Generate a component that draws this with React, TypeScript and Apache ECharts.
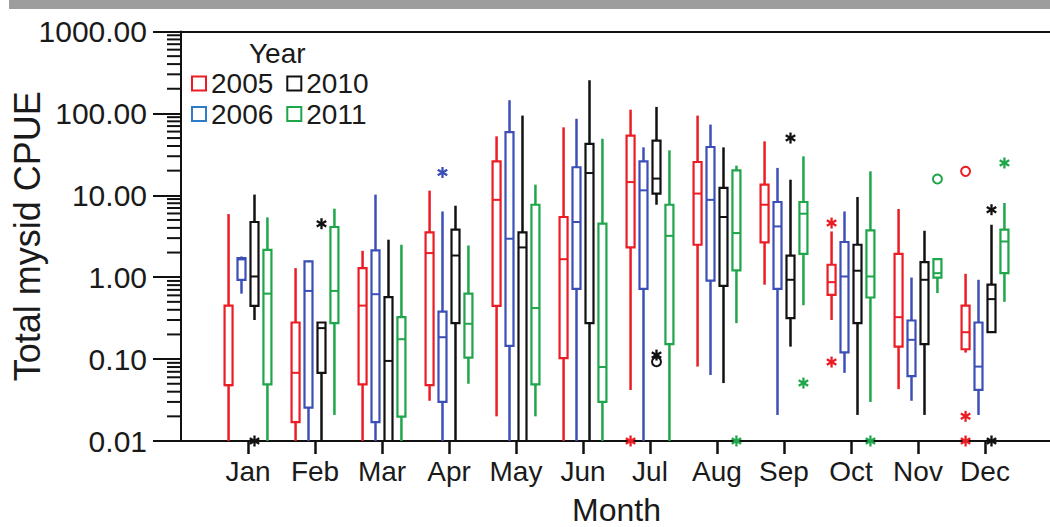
import React, { useEffect, useRef } from "react";
import * as echarts from "echarts";

// Months (x categories)
const months = ["Jan", "Feb", "Mar", "Apr", "May", "Jun", "Jul", "Aug", "Sep", "Oct", "Nov", "Dec"];
const years = ["2005", "2006", "2010", "2011"];

// Box statistics per month: [low whisker, Q1, median, Q3, high whisker]
const box2005 = [
  [0.01, 0.048, 0.048, 0.45, 5.9],
  [0.01, 0.017, 0.068, 0.28, 1.29],
  [0.01, 0.049, 0.45, 1.29, 2.1],
  [0.031, 0.048, 1.97, 3.52, 11.4],
  [0.02, 0.447, 8.8, 26, 52.5],
  [0.01, 0.103, 1.66, 5.43, 67.6],
  [0.042, 2.31, 14.5, 53.5, 111],
  [0.081, 2.49, 10.5, 25.5, 94],
  [0.81, 2.66, 7.67, 13.5, 45.6],
  [0.3, 0.61, 0.87, 1.42, 3.62],
  [0.043, 0.142, 0.325, 1.93, 6.8],
  [0.12, 0.132, 0.213, 0.45, 1.1],
];
const box2006 = [
  [0.63, 0.93, 1.65, 1.71, 1.79],
  [0.01, 0.0255, 0.68, 1.56, 1.6],
  [0.01, 0.017, 0.62, 2.12, 10.2],
  [0.01, 0.03, 0.185, 0.38, 6.35],
  [0.01, 0.145, 2.95, 59, 145],
  [0.01, 0.72, 4.72, 22, 86],
  [0.01, 0.72, 11.5, 26, 38.5],
  [0.064, 0.91, 8.8, 38.9, 73],
  [0.0208, 0.72, 4.17, 8.28, 21.6],
  [0.068, 0.121, 1.02, 2.69, 6.35],
  [0.031, 0.062, 0.172, 0.296, 0.99],
  [0.0208, 0.042, 0.081, 0.28, 0.93],
];
const box2010 = [
  [0.3, 0.447, 1.02, 4.72, 10.2],
  [0.01, 0.068, 0.239, 0.28, 0.28],
  [0.01, 0.01, 0.095, 0.57, 2.87],
  [0.01, 0.275, 1.84, 3.8, 7.46],
  [0.01, 0.01, 2.31, 3.52, 94],
  [0.01, 0.275, 18.7, 42.4, 254],
  [7.67, 10.5, 16, 46.5, 120],
  [0.051, 0.785, 5.43, 12.3, 38.5],
  [0.142, 0.316, 0.93, 1.83, 15.5],
  [0.0208, 0.275, 1.2, 2.49, 9.53],
  [0.0208, 0.152, 0.93, 1.53, 3.69],
  [0.213, 0.213, 0.54, 0.81, 4.37],
];
const box2011 = [
  [0.01, 0.049, 0.63, 2.16, 5.37],
  [0.0208, 0.275, 0.68, 4.1, 6.86],
  [0.01, 0.0198, 0.175, 0.325, 2.49],
  [0.05, 0.104, 0.27, 0.63, 2.44],
  [0.02, 0.049, 0.42, 7.67, 13.5],
  [0.01, 0.03, 0.08, 4.5, 49],
  [0.01, 0.152, 3.2, 7.67, 35.4],
  [0.275, 1.21, 3.46, 20.1, 23],
  [0.455, 1.93, 5.96, 8.28, 29.9],
  [0.03, 0.565, 1.02, 3.72, 19.6],
  [0.64, 0.99, 1.12, 1.66, 1.66],
  [0.5, 1.12, 2.73, 3.8, 8.05],
];

// Outliers: [month number, value, marker (0 = asterisk, 1 = circle)]
const out2005 = [
  [7, 0.01, 0],
  [10, 4.58, 0],
  [10, 0.092, 0],
  [12, 19.6, 1],
  [12, 0.02, 0],
  [12, 0.01, 0],
];
const out2006 = [[4, 19, 0]];
const out2010 = [
  [1, 0.01, 0],
  [2, 4.5, 0],
  [7, 0.112, 0],
  [7, 0.093, 1],
  [9, 50, 0],
  [12, 6.67, 0],
  [12, 0.01, 0],
];
const out2011 = [
  [8, 0.01, 0],
  [9, 0.051, 0],
  [10, 0.01, 0],
  [11, 15.8, 1],
  [12, 24.8, 0],
];

// Y axis minor tick values
const minorTickValues = [
  0.02, 0.03, 0.04, 0.05, 0.06, 0.07, 0.08, 0.09,
  0.2, 0.3, 0.4, 0.5, 0.6, 0.7, 0.8, 0.9,
  2, 3, 4, 5, 6, 7, 8, 9,
  20, 30, 40, 50, 60, 70, 80, 90,
  200, 300, 400, 500, 600, 700, 800, 900,
];

const boxSets = [box2005, box2006, box2010, box2011];
const outSets = [out2005, out2006, out2010, out2011];
const colors = ["#ec1c24", "#3c4fb6", "#111111", "#1fa54a"];
const legendColors = ["#ec1c24", "#2e7bc7", "#111111", "#1fa54a"];
const offsets = [-0.29, -0.097, 0.097, 0.29];
const FONT = "'Liberation Sans', Arial, Helvetica, sans-serif";
const TXT = "#1a1a1a";

function boxRenderer(color: string, offset: number) {
  return (params: any, api: any) => {
    const m = api.value(0) + offset;
    const low = api.coord([m, api.value(1)]);
    const q1 = api.coord([m, api.value(2)]);
    const med = api.coord([m, api.value(3)]);
    const q3 = api.coord([m, api.value(4)]);
    const high = api.coord([m, api.value(5)]);
    const x = q1[0];
    const hw = 4;
    return {
      type: "group",
      children: [
        { type: "line", shape: { x1: x, y1: high[1], x2: x, y2: q3[1] }, style: { stroke: color, lineWidth: 2.5 } },
        { type: "line", shape: { x1: x, y1: q1[1], x2: x, y2: low[1] }, style: { stroke: color, lineWidth: 2.5 } },
        {
          type: "rect",
          shape: { x: x - hw, y: q3[1], width: hw * 2, height: q1[1] - q3[1] },
          style: { fill: "none", stroke: color, lineWidth: 2.2 },
        },
        { type: "line", shape: { x1: x - hw, y1: med[1], x2: x + hw, y2: med[1] }, style: { stroke: color, lineWidth: 2 } },
      ],
    };
  };
}

function outlierRenderer(color: string, offset: number) {
  return (params: any, api: any) => {
    const p = api.coord([api.value(0) + offset, api.value(1)]);
    if (api.value(2) === 1) {
      return { type: "circle", shape: { cx: p[0], cy: p[1], r: 4.5 }, style: { fill: "none", stroke: color, lineWidth: 2 } };
    }
    const r = 5.5;
    const children = [90, 30, 150].map((deg) => {
      const a = (deg * Math.PI) / 180;
      const dx = Math.cos(a) * r;
      const dy = Math.sin(a) * r;
      return {
        type: "line",
        shape: { x1: p[0] - dx, y1: p[1] - dy, x2: p[0] + dx, y2: p[1] + dy },
        style: { stroke: color, lineWidth: 2.3 },
      };
    });
    return { type: "group", children };
  };
}

export default function App() {
  const ref = useRef<HTMLDivElement>(null);
  useEffect(() => {
    if (!ref.current) return;
    const chart = echarts.init(ref.current, null, { renderer: "svg" });
    const monthNums = months.map((_, i) => i + 1);

    const series: any[] = [];
    years.forEach((y, k) => {
      series.push({
        name: y,
        type: "custom",
        xAxisIndex: 0,
        yAxisIndex: 0,
        clip: false,
        itemStyle: { color: colors[k] },
        renderItem: boxRenderer(colors[k], offsets[k]),
        encode: { x: 0, y: [1, 2, 3, 4, 5] },
        data: boxSets[k].map((b, i) => [i + 1, ...b]),
        z: 3,
      });
    });
    years.forEach((y, k) => {
      series.push({
        name: y,
        type: "custom",
        xAxisIndex: 0,
        yAxisIndex: 0,
        clip: false,
        itemStyle: { color: colors[k] },
        renderItem: outlierRenderer(colors[k], offsets[k]),
        encode: { x: 0, y: 1 },
        data: outSets[k],
        z: 4,
      });
    });
    series.push({
      name: "minorTicks",
      type: "custom",
      xAxisIndex: 0,
      yAxisIndex: 0,
      clip: false,
      silent: true,
      renderItem: (params: any, api: any) => {
        const p = api.coord([0, api.value(0)]);
        return {
          type: "line",
          shape: { x1: p[0] - 14, y1: p[1], x2: p[0], y2: p[1] },
          style: { stroke: "#111", lineWidth: 2 },
        };
      },
      encode: { y: 0 },
      data: minorTickValues.map((v) => [v]),
      z: 2,
    });

    const legendItem = (k: number) => ({
      name: years[k],
      icon: "rect",
      itemStyle: { color: "#ffffff", borderColor: legendColors[k], borderWidth: 2 },
    });
    const legendBase = {
      left: 191,
      orient: "horizontal",
      itemWidth: 14,
      itemHeight: 14,
      itemGap: 13,
      padding: 0,
      selectedMode: false,
      textStyle: { fontSize: 28, color: TXT, fontFamily: FONT },
    };

    chart.setOption({
      animation: false,
      backgroundColor: "#ffffff",
      textStyle: { fontFamily: FONT },
      title: {
        text: "Year",
        left: 249,
        top: 39,
        padding: 0,
        textStyle: { fontSize: 28, fontWeight: "normal", color: TXT, fontFamily: FONT },
      },
      legend: [
        { ...legendBase, top: 69.5, data: [legendItem(0), legendItem(2)] },
        { ...legendBase, top: 100, data: [legendItem(1), legendItem(3)] },
      ],
      graphic: [
        { type: "rect", shape: { x: 9, y: 0, width: 1041, height: 9 }, style: { fill: "#9d9d9d" }, z: 10 },
      ],
      grid: {
        left: 181,
        top: 31.5,
        width: 871,
        height: 409.5,
        containLabel: false,
        outerBoundsMode: "none",
      },
      xAxis: [
        {
          type: "value",
          position: "bottom",
          min: 0,
          max: 13,
          interval: 1,
          axisLine: { show: true, onZero: false, lineStyle: { color: "#111", width: 2 } },
          axisTick: { show: true, customValues: monthNums, length: 13, lineStyle: { color: "#111", width: 2.5 } },
          axisLabel: {
            customValues: monthNums,
            formatter: (v: number) => months[Math.round(v) - 1] || "",
            fontSize: 28,
            color: TXT,
            margin: 16,
            fontFamily: FONT,
          },
          splitLine: { show: false },
          name: "Month",
          nameLocation: "middle",
          nameGap: 53,
          nameMoveOverlap: false,
          nameTextStyle: { fontSize: 32, color: TXT, fontFamily: FONT },
        },
        {
          type: "value",
          position: "top",
          min: 0,
          max: 13,
          interval: 1,
          axisLine: { show: true, onZero: false, lineStyle: { color: "#111", width: 2 } },
          axisTick: { show: false },
          axisLabel: { show: false },
          splitLine: { show: false },
        },
      ],
      yAxis: {
        type: "log",
        logBase: 10,
        min: 0.01,
        max: 1000,
        axisLine: { show: true, onZero: false, lineStyle: { color: "#111", width: 2 } },
        axisTick: { show: true, length: 28, lineStyle: { color: "#111", width: 2 } },
        axisLabel: {
          fontSize: 30,
          color: TXT,
          margin: 34,
          fontFamily: FONT,
          formatter: (v: number) => Number(v).toFixed(2),
        },
        splitLine: { show: false },
        name: "Total mysid CPUE",
        nameLocation: "middle",
        nameGap: 136,
        nameMoveOverlap: false,
        nameTextStyle: { fontSize: 36, color: TXT, fontFamily: FONT },
      },
      series,
    });
    return () => chart.dispose();
  }, []);

  return (
    <div
      ref={ref}
      style={{ position: "absolute", left: 0, top: 0, width: 1050, height: 527, background: "#fff" }}
    />
  );
}
